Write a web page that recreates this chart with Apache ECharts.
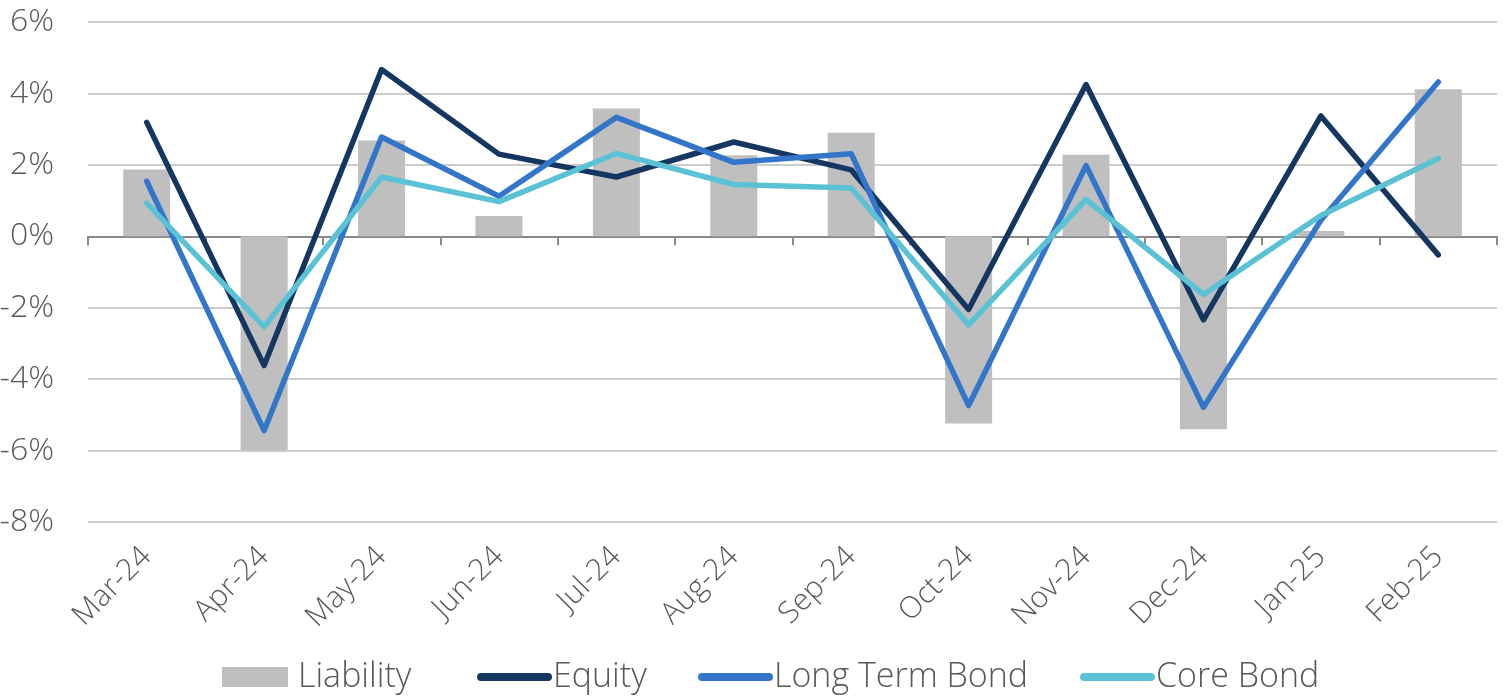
<!DOCTYPE html>
<html>
<head>
<meta charset="utf-8">
<script src="https://cdn.jsdelivr.net/npm/echarts@6/dist/echarts.min.js"></script>
<style>
html,body{margin:0;padding:0;background:#fff;}
#chart{width:1512px;height:698px;}
</style>
</head>
<body>
<div id="chart"></div>
<script>
const categories = ['Mar-24','Apr-24','May-24','Jun-24','Jul-24','Aug-24','Sep-24','Oct-24','Nov-24','Dec-24','Jan-25','Feb-25'];
const liability = [1.87, -5.99, 2.68, 0.57, 3.58, 2.27, 2.90, -5.24, 2.28, -5.40, 0.15, 4.12];
const equity = [3.19, -3.62, 4.67, 2.30, 1.66, 2.64, 1.86, -2.05, 4.25, -2.34, 3.37, -0.52];
const longTermBond = [1.54, -5.44, 2.78, 1.12, 3.33, 2.07, 2.31, -4.74, 1.98, -4.79, 0.45, 4.32];
const coreBond = [0.93, -2.53, 1.66, 0.97, 2.32, 1.45, 1.35, -2.48, 1.03, -1.63, 0.58, 2.18];
const yTicks = {min: -8, max: 6, interval: 2};
const seriesNames = ['Liability', 'Equity', 'Long Term Bond', 'Core Bond'];

const textColor = '#595959';
const font = 'Open Sans';
const rectIcon = 'path://M0,0 L66,0 L66,20 L0,20 Z M75,0 L75,0 Z';
const lineIcon = 'path://M0,0 L0,0 Z M0,20 L0,20 Z M75,0 L75,0 Z M4,6 L71,6 A4,4 0 0 1 71,14 L4,14 A4,4 0 0 1 4,6 Z';
const legendLefts = [222, 477, 698, 1080];
const legends = seriesNames.map((n, i) => ({
  top: 660, left: legendLefts[i], padding: 0,
  itemWidth: 75, itemHeight: 20,
  textStyle: {color: textColor, fontFamily: font, fontWeight: 300, fontSize: 34, padding: [0,0,0,-4]},
  data: [{name: n, icon: i === 0 ? rectIcon : lineIcon}]
}));

const chart = echarts.init(document.getElementById('chart'), null, {renderer: 'canvas'});
chart.setOption({
  animation: false,
  grid: {left: 88, right: 15, top: 22, bottom: 176, containLabel: false, outerBoundsMode: 'none'},
  legend: legends,
  xAxis: [
    {
      type: 'category', data: categories, position: 'bottom',
      axisLine: {show: false, onZero: false}, axisTick: {show: false},
      axisLabel: {rotate: 45, color: textColor, fontFamily: font, fontWeight: 300, fontSize: 30, margin: 30, interval: 0}
    },
    {
      type: 'category', data: categories, position: 'top',
      axisLine: {show: true, onZero: true, lineStyle: {color: '#898989', width: 2}},
      axisTick: {show: true, inside: true, length: 9, interval: 0, lineStyle: {color: '#898989', width: 2}},
      axisLabel: {show: false}
    }
  ],
  yAxis: {
    type: 'value', min: yTicks.min, max: yTicks.max, interval: yTicks.interval,
    axisLine: {show: false}, axisTick: {show: false},
    axisLabel: {formatter: '{value}%', color: textColor, fontFamily: font, fontWeight: 300, fontSize: 32, margin: 34},
    splitLine: {lineStyle: {color: '#cccccc', width: 2}}
  },
  series: [
    {name: seriesNames[0], type: 'bar', data: liability, barWidth: 47, itemStyle: {color: '#bfbfbf'}, xAxisIndex: 0},
    {name: seriesNames[1], type: 'line', data: equity, symbol: 'none', xAxisIndex: 0,
     lineStyle: {color: '#143661', width: 5.5, cap: 'round', join: 'round'}, itemStyle: {color: '#143661'}},
    {name: seriesNames[2], type: 'line', data: longTermBond, symbol: 'none', xAxisIndex: 0,
     lineStyle: {color: '#3375c9', width: 5.5, cap: 'round', join: 'round'}, itemStyle: {color: '#3375c9'}},
    {name: seriesNames[3], type: 'line', data: coreBond, symbol: 'none', xAxisIndex: 0,
     lineStyle: {color: '#5bc2d6', width: 5.5, cap: 'round', join: 'round'}, itemStyle: {color: '#5bc2d6'}}
  ]
});
</script>
</body>
</html>
